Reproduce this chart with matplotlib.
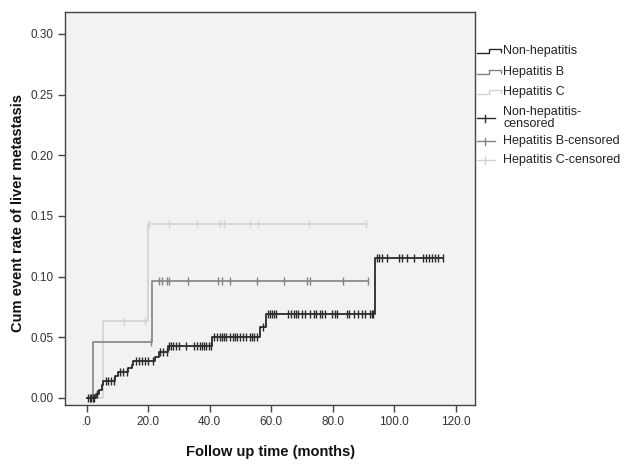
import matplotlib
matplotlib.use('Agg')
import matplotlib.pyplot as plt
from matplotlib.lines import Line2D
import numpy as np

plt.rcParams['font.family'] = ['Liberation Sans', 'DejaVu Sans']

# ---------------- data ----------------
nonhep_times = [0, 3.0, 4.2, 4.9, 5.5, 9.3, 10.3, 13.6, 14.7, 15.2, 22.3, 23.4, 26.6, 40.7, 56.4, 58.4, 93.8]
nonhep_rate = [0, 0.003, 0.0066, 0.0107, 0.014, 0.018, 0.0217, 0.0245, 0.027, 0.0305,
               0.034, 0.038, 0.043, 0.0505, 0.0588, 0.069, 0.115]
nonhep_end = 116.0
nonhep_censored = [0.5, 1.0, 1.5, 2.0, 2.5, 3.5, 6.2, 7.0, 8.0, 8.8, 11.0, 12.0, 13.0,
                   16.0, 17.0, 18.0, 19.0, 20.0, 21.5, 24.0, 25.0, 26.0,
                   26.9, 27.5, 28.2, 29.0, 30.0, 32.5, 35.0, 36.0, 36.8, 37.5, 38.3, 39.0, 39.8, 40.4,
                   41.5, 42.5, 43.3, 44.0, 44.8, 45.5, 46.5, 47.5, 48.3, 49.0, 50.0, 51.0, 52.0,
                   53.0, 53.8, 54.5, 55.3, 57.5, 59.0, 59.5,
                   60.2, 61.0, 61.6, 65.6, 66.4, 67.3, 68.0, 68.9, 70.0, 71.1, 72.7, 73.8, 74.6,
                   75.9, 76.5, 77.6, 79.7, 80.8, 81.4, 84.8, 85.4, 86.8, 88.1, 89.5, 90.6, 92.2, 92.7, 93.3,
                   94.4, 95.2, 96.0, 97.8, 101.7, 102.5, 104.1, 106.6, 109.5, 110.3, 111.2,
                   112.3, 113.4, 114.4, 116.0]

hepb_times = [0, 2.2, 21.2]
hepb_rate = [0, 0.046, 0.096]
hepb_end = 91.6
hepb_censored = [20.9, 23.4, 24.5, 26.1, 26.8, 33.1, 42.9, 44.0, 46.5, 55.3, 64.2,
                 71.6, 72.7, 83.5, 91.6]

hepc_times = [0, 5.5, 20.1]
hepc_rate = [0, 0.063, 0.143]
hepc_end = 90.9
hepc_censored = [12.3, 19.0, 20.3, 26.8, 35.8, 43.4, 44.8, 53.2, 55.9, 72.4, 90.9]

x_ticks = [0, 20, 40, 60, 80, 100, 120]
x_ticklabels = ['.0', '20.0', '40.0', '60.0', '80.0', '100.0', '120.0']
y_ticks = [0.0, 0.05, 0.10, 0.15, 0.20, 0.25, 0.30]
y_ticklabels = ['0.00', '0.05', '0.10', '0.15', '0.20', '0.25', '0.30']

labels = ['Non-hepatitis', 'Hepatitis B', 'Hepatitis C',
          'Non-hepatitis-\ncensored', 'Hepatitis B-censored', 'Hepatitis C-censored']

# ---------------- styles ----------------
c_non = '#2a2a2a'
c_b = '#838383'
c_c = '#d2d2d2'

W, H = 630, 467
fig = plt.figure(figsize=(W / 100, H / 100), dpi=100)
fig.patch.set_facecolor('white')
ax = fig.add_axes([65 / W, 1 - 405 / H, 410 / W, 393 / H])
ax.set_facecolor('#f2f2f2')


def step_value(times, rates, t):
    idx = np.searchsorted(times, t, side='right') - 1
    return np.asarray(rates)[idx]


def draw_curve(times, rates, end, cens, color, lw, z):
    xs = list(times) + [end]
    ys = list(rates) + [rates[-1]]
    ax.step(xs, ys, where='post', color=color, lw=lw, zorder=z)
    cy = step_value(np.asarray(times), rates, np.asarray(cens))
    ax.plot(cens, cy, ls='none', marker='|', markersize=6, mew=1.0, color=color, zorder=z + 0.5)


draw_curve(hepc_times, hepc_rate, hepc_end, hepc_censored, c_c, 1.2, 2)
draw_curve(hepb_times, hepb_rate, hepb_end, hepb_censored, c_b, 1.2, 3)
draw_curve(nonhep_times, nonhep_rate, nonhep_end, nonhep_censored, c_non, 1.3, 4)

ax.set_xlim(-7, 126.3)
ax.set_ylim(-0.0058, 0.318)
ax.set_xticks(x_ticks)
ax.set_xticklabels(x_ticklabels)
ax.set_yticks(y_ticks)
ax.set_yticklabels(y_ticklabels)
ax.tick_params(axis='both', length=5, width=1, color='#444444', labelsize=8.5,
               labelcolor='#333333', pad=3)
for s in ax.spines.values():
    s.set_color('#444444')
    s.set_linewidth(1.0)

fig.text(18 / W, 1 - 213 / H, 'Cum event rate of liver metastasis', rotation=90,
         ha='center', va='center', fontsize=10.5, fontweight='bold', color='#111111')
fig.text(271 / W, 1 - 452 / H, 'Follow up time (months)', ha='center', va='center',
         fontsize=10.5, fontweight='bold', color='#111111')


# ---------------- legend (drawn manually) ----------------
def fx(x):
    return x / W


def fy(y):
    return 1 - y / H


colors = [c_non, c_b, c_c, c_non, c_b, c_c]
rows = [51, 72, 92, 118, 141, 160]
for i, (lab, col, yy) in enumerate(zip(labels, colors, rows)):
    if i < 3:
        xs = [477, 489, 489, 501, 501]
        ys = [yy + 1.5, yy + 1.5, yy - 2.5, yy - 2.5, yy + 0.5]
        fig.add_artist(Line2D([fx(v) for v in xs], [fy(v) for v in ys], color=col, lw=1.0))
    else:
        fig.add_artist(Line2D([fx(477), fx(495)], [fy(yy), fy(yy)], color=col, lw=1.0))
        fig.add_artist(Line2D([fx(485), fx(485)], [fy(yy - 3.5), fy(yy + 3.5)], color=col, lw=1.0))
    fig.text(fx(503), fy(yy), lab, ha='left', va='center', fontsize=9, color='#222222',
             linespacing=1.0)

fig.savefig('out.png', dpi=100, facecolor='white')
